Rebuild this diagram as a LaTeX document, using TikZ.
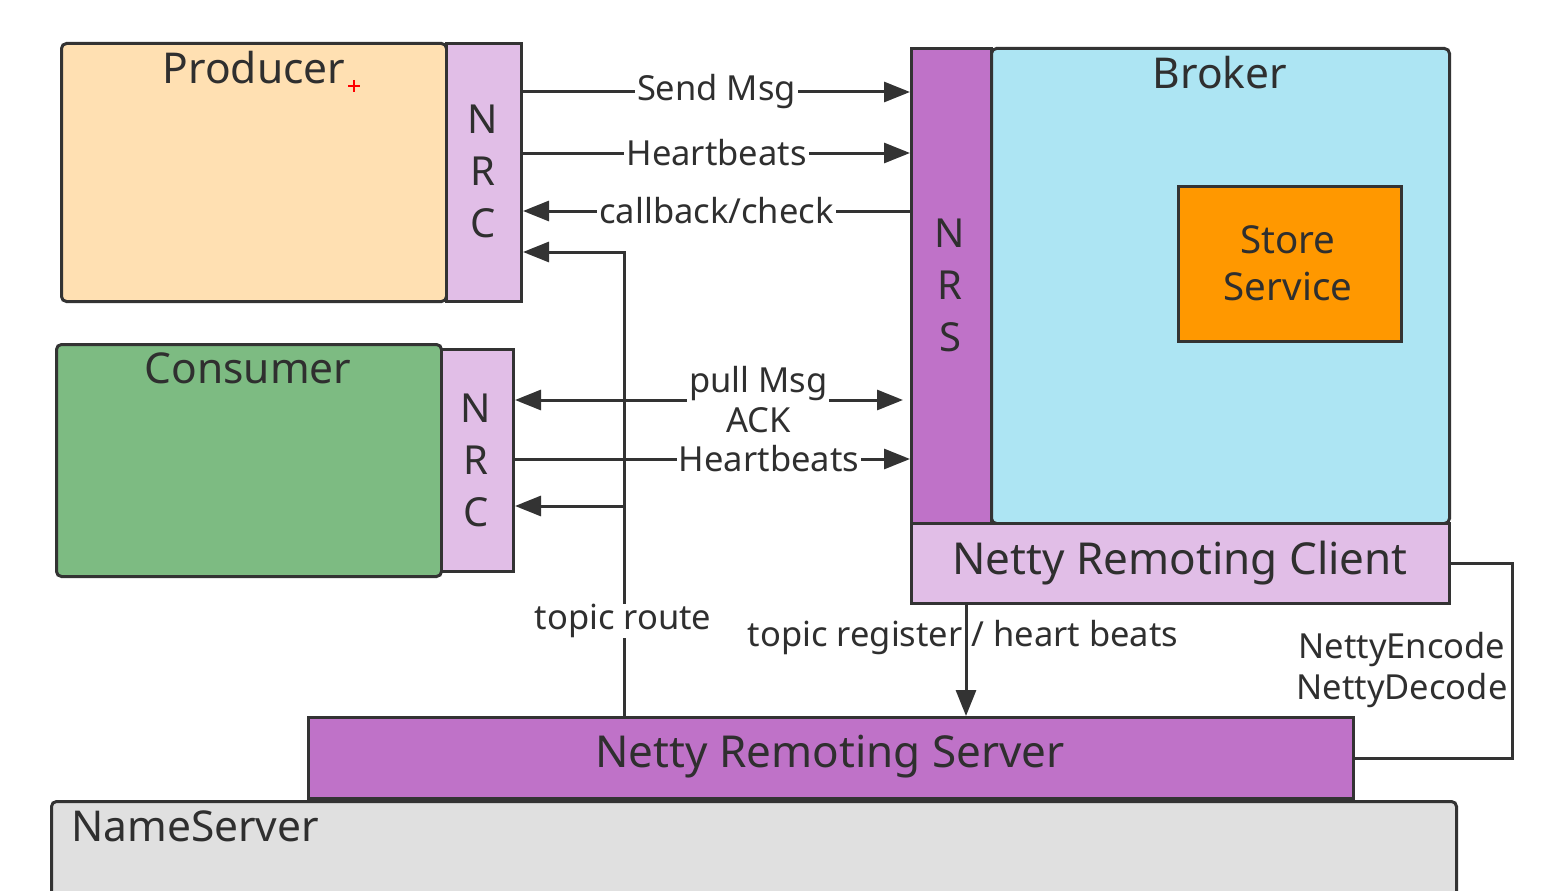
\documentclass[tikz,border=0pt]{standalone}
\usepackage{fontspec}
\setmainfont{Noto Sans}
\usetikzlibrary{arrows.meta,calc}
\definecolor{peach}{HTML}{FFE0B2}
\definecolor{lilac}{HTML}{E1BEE7}
\definecolor{grn}{HTML}{7DBB82}
\definecolor{purp}{HTML}{BF72C8}
\definecolor{cyanl}{HTML}{ADE5F3}
\definecolor{orng}{HTML}{FF9800}
\definecolor{nsgray}{HTML}{E0E0E0}
\definecolor{edge}{HTML}{333333}
\definecolor{txt}{HTML}{2F2F2F}
\tikzset{
  box/.style={draw=edge, line width=3pt, rectangle, anchor=north west, inner sep=0pt},
  big/.style={text=txt, font=\fontsize{42.5}{48}\selectfont, inner sep=0pt},
  bigger/.style={text=txt, font=\fontsize{44}{50}\selectfont, inner sep=0pt},
  letters/.style={text=txt, font=\fontsize{40}{52}\selectfont, align=center, inner sep=0pt},
  lbl/.style={text=txt, font=\fontsize{34.5}{40}\selectfont, fill=white, inner xsep=2pt, inner ysep=0pt},
  lblplain/.style={text=txt, font=\fontsize{34.5}{41}\selectfont, inner sep=0pt},
  conn/.style={draw=edge, line width=3pt},
  arr/.style={conn, -{Triangle[length=26pt,width=20pt]}},
  darr/.style={conn, {Triangle[length=26pt,width=20pt]}-{Triangle[length=26pt,width=20pt]}}
}
\begin{document}
\begin{tikzpicture}[x=1pt,y=-1pt]
\clip (0,0) rectangle (1567,891);
\fill[white] (0,0) rectangle (1567,891);

% boxes
\node[box, fill=nsgray, rounded corners=5pt, minimum width=1405pt, minimum height=140pt] (ns) at (50,800) {};
\node[box, fill=purp, minimum width=1045pt, minimum height=81pt] (nrsrv) at (307,716) {};
\node[box, fill=peach, rounded corners=5pt, minimum width=385pt, minimum height=258pt] (prod) at (60,42) {};
\node[box, fill=lilac, minimum width=75pt, minimum height=258pt] (pnrc) at (445,42) {};
\node[box, fill=grn, rounded corners=5pt, minimum width=385pt, minimum height=232pt] (cons) at (55,343) {};
\node[box, fill=lilac, minimum width=72pt, minimum height=222pt] (cnrc) at (440,348) {};
\node[box, fill=cyanl, rounded corners=5pt, minimum width=458pt, minimum height=475pt] (brk) at (990,47) {};
\node[box, fill=purp, minimum width=80pt, minimum height=475pt] (nrs) at (910,47) {};
\node[box, fill=orng, minimum width=223pt, minimum height=155pt] (store) at (1177,185) {};
\node[box, fill=lilac, minimum width=538pt, minimum height=80pt] (nrc) at (910,522) {};

% texts
\node[big] (prodt) at (254,68) {Producer};
\node[big] (const) at (248,368) {Consumer};
\node[big] (brkt) at (1220,73) {Broker};
\node[big, anchor=west] (nst) at (71,826) {NameServer};
\node[bigger] (nrsrvt) at (830,757) {Netty Remoting Server};
\node[bigger] (nrct) at (1180,563) {Netty Remoting Client};
\node[text=txt, font=\fontsize{38.5}{47}\selectfont, align=center, inner sep=0pt] (storet) at (1288,263) {Store\\Service};
\node[letters] (pnrct) at (483,171) {N\\R\\C};
\node[letters] (cnrct) at (476,460) {N\\R\\C};
\node[letters] (nrst) at (950,285) {N\\R\\S};
\draw[red, line width=1.6pt] (348,86) -- (360,86) (354,80) -- (354,92);

% level coordinates
\coordinate (ySend) at (0,92);
\coordinate (yHb) at (0,153);
\coordinate (yCb) at (0,211);
\coordinate (yTr) at (0,252);
\coordinate (yPull) at (0,400);
\coordinate (yHb2) at (0,459);
\coordinate (xR) at (624,0);
\coordinate (xReg) at (966,0);
\coordinate (xEnc) at (1512,0);
\coordinate (br) at (624,506);

% producer <-> broker
\draw[arr] (pnrc.east |- ySend) -- node[lbl]{Send Msg} (nrs.west |- ySend);
\draw[arr] (pnrc.east |- yHb) -- node[lbl]{Heartbeats} (nrs.west |- yHb);
\draw[arr] (nrs.west |- yCb) -- node[lbl]{callback/check} (pnrc.east |- yCb);

% topic route
\draw[arr] (nrsrv.north -| xR) |- (pnrc.east |- yTr);
\draw[arr] (br) -- (cnrc.east |- br);
\node[lbl] (trl) at (623,621) {topic route};

% consumer <-> broker
\draw[darr] (cnrc.east |- yPull) -- node[lbl, pos=0.627, align=center]{pull Msg\\ACK} ($(nrs.west |- yPull)+(-7,0)$);
\draw[arr] (cnrc.east |- yHb2) -- node[lbl, pos=0.643]{Heartbeats} (nrs.west |- yHb2);

% broker -> nameserver
\node[lblplain] (regl) at (963,638) {topic register / heart beats};
\draw[arr] (nrc.south -| xReg) -- (nrsrv.north -| xReg);

% encode/decode
\draw[conn] (nrc.east) -- (nrc.east -| xEnc) |- (nrsrv.east);
\node[lblplain, align=center] (encl) at (1402,670) {NettyEncode\\NettyDecode};
\end{tikzpicture}
\end{document}
